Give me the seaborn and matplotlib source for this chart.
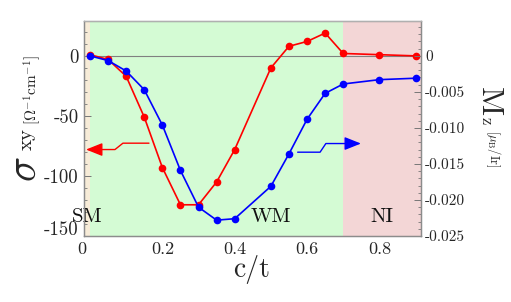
import numpy as np
import matplotlib
matplotlib.use('Agg')
import matplotlib.pyplot as plt
import matplotlib.transforms as mtransforms
from matplotlib.ticker import MultipleLocator, FuncFormatter
import seaborn as sns

# c/t values shared by both series
ct = [0.0, 0.05, 0.1, 0.15, 0.2, 0.25, 0.3, 0.35, 0.4, 0.5, 0.55, 0.6, 0.65, 0.7, 0.8, 0.9]
# Hall conductivity sigma_xy [1/(Ohm cm)]  (left axis, red)
sigma_xy = [1, -3, -17, -51, -93, -124, -124, -105, -78, -10, 8, 12, 19, 2, 1, 0]
# magnetisation M_z [muB/Ir]  (right axis, blue)
m_z = [0.0, -0.00065, -0.0021, -0.0047, -0.0096, -0.0159, -0.0210, -0.0228, -0.0226,
       -0.0181, -0.0136, -0.0088, -0.0052, -0.0039, -0.0033, -0.0031]

phase_names = ['SM', 'WM', 'NI']
phase_edges = [-0.0166, 0.0, 0.7, 0.915]
phase_colors = ['#f7ecd8', '#d4fbd4', '#f3d6d6']

sns.set_theme(style='white')
plt.rcParams['font.family'] = ['cmr10', 'DejaVu Serif']
plt.rcParams['mathtext.fontset'] = 'cm'
plt.rcParams['axes.unicode_minus'] = False
plt.rcParams['axes.formatter.use_mathtext'] = True

fig = plt.figure(figsize=(5.11, 3.02), dpi=100)
ax = fig.add_axes([84/511, 1-236/302, 337/511, 215.3/302])

# phase regions
ax.axvspan(phase_edges[0], phase_edges[1], color=phase_colors[0], lw=0, zorder=0)
ax.axvspan(phase_edges[1], phase_edges[2], color=phase_colors[1], lw=0, zorder=0)
ax.axvspan(phase_edges[2], phase_edges[3], color=phase_colors[2], lw=0, zorder=0)
ax.axhline(0, color='#808080', lw=0.8, zorder=1)

sns.lineplot(x=ct, y=sigma_xy, ax=ax, color='red', marker='o', markersize=5.5,
             markeredgewidth=0, linewidth=1.2, zorder=3)

ax.set_xlim(phase_edges[0], phase_edges[3])
ax.set_ylim(-150, 29.3)

ax2 = ax.twinx()
sns.lineplot(x=ct, y=m_z, ax=ax2, color='blue', marker='o', markersize=5.5,
             markeredgewidth=0, linewidth=1.2, zorder=3)
ax2.set_ylim(-0.025, 0.025 * 29.3 / 150)

# ticks
ax.xaxis.set_major_locator(MultipleLocator(0.2))
ax.xaxis.set_minor_locator(MultipleLocator(0.05))
ax.yaxis.set_major_locator(MultipleLocator(50))
ax.yaxis.set_minor_locator(MultipleLocator(10))
ax2.yaxis.set_major_locator(MultipleLocator(0.005))
ax2.yaxis.set_minor_locator(MultipleLocator(0.001))
ax.xaxis.set_major_formatter(FuncFormatter(lambda v, p: '0' if abs(v) < 1e-9 else f'{v:.1f}'))
ax.yaxis.set_major_formatter(FuncFormatter(lambda v, p: f'{v:.0f}'))
ax2.yaxis.set_major_formatter(FuncFormatter(lambda v, p: '0' if abs(v) < 1e-9 else f'{v:.3f}'))

ax.tick_params(axis='both', which='both', direction='in', color='#777777', top=False, right=False)
ax.tick_params(axis='both', which='major', length=5, width=0.7)
ax.tick_params(axis='both', which='minor', length=2.5, width=0.6)
ax.tick_params(axis='x', labelsize=13, pad=4)
ax.tick_params(axis='y', labelsize=13.5, pad=4)
ax2.tick_params(axis='y', which='both', direction='in', color='#777777', labelsize=11, pad=3)
ax2.tick_params(axis='y', which='major', length=5, width=0.7)
ax2.tick_params(axis='y', which='minor', length=2.5, width=0.6)
for a in (ax, ax2):
    for s in a.spines.values():
        s.set_color('#8c8c8c')
        s.set_linewidth(0.9)
ax2.spines['top'].set_color('#b0b0b0')

fig.canvas.draw()
# nudge corner labels like the original
for lab, v in zip(ax.get_xticklabels(), ax.get_xticks()):
    if abs(v) < 1e-9:
        lab.set_transform(lab.get_transform() + mtransforms.ScaledTranslation(-8/100, 0, fig.dpi_scale_trans))
for lab, v in zip(ax.get_yticklabels(), ax.get_yticks()):
    if abs(v + 150) < 1e-9:
        lab.set_transform(lab.get_transform() + mtransforms.ScaledTranslation(0, 8/100, fig.dpi_scale_trans))

# arrows pointing to the relevant axis
ax.plot([0.163, 0.091, 0.069, 0.03], [-72.7, -72.7, -78, -78], color='red', lw=1, zorder=4)
ax.annotate('', xy=(-0.011, -78), xytext=(0.03, -78),
            arrowprops=dict(arrowstyle='-|>,head_length=0.5,head_width=0.2', color='red',
                            lw=1, mutation_scale=20, shrinkA=0, shrinkB=0), zorder=4)
ax.plot([0.574, 0.636, 0.652, 0.71], [-80.2, -80.2, -73, -73], color='blue', lw=1, zorder=4)
ax.annotate('', xy=(0.749, -73), xytext=(0.71, -73),
            arrowprops=dict(arrowstyle='-|>,head_length=0.5,head_width=0.2', color='blue',
                            lw=1, mutation_scale=20, shrinkA=0, shrinkB=0), zorder=4)

# phase labels
for name, xpos in zip(phase_names, [-0.008, 0.5, 0.806]):
    ax.text(xpos, -134, name, ha='center', va='center', fontsize=15, color='#111111', zorder=5)

# axis labels
fig.text(252/511, 1-270/302, 'c/t', ha='center', va='center', fontsize=20)
fig.text(25/511, 1-169/302, r'$\sigma$', ha='center', va='center', fontsize=30, rotation=90)
fig.text(27/511, 1-139/302, 'xy', ha='center', va='center', fontsize=15, rotation=90)
fig.text(32/511, 1-90/302, r'$[\Omega^{-1}\mathrm{cm}^{-1}]$', ha='center', va='center',
         fontsize=11, rotation=90)
fig.text(490/511, 1-100/302, r'$\mathrm{M}$', ha='center', va='center', fontsize=23, rotation=270)
fig.text(486/511, 1-121/302, 'z', ha='center', va='center', fontsize=12, rotation=270)
fig.text(493/511, 1-149/302, r'$[\mu_\mathrm{B}/\mathrm{Ir}]$', ha='center', va='center',
         fontsize=9, rotation=270)

fig.savefig('out.png', dpi=100)
